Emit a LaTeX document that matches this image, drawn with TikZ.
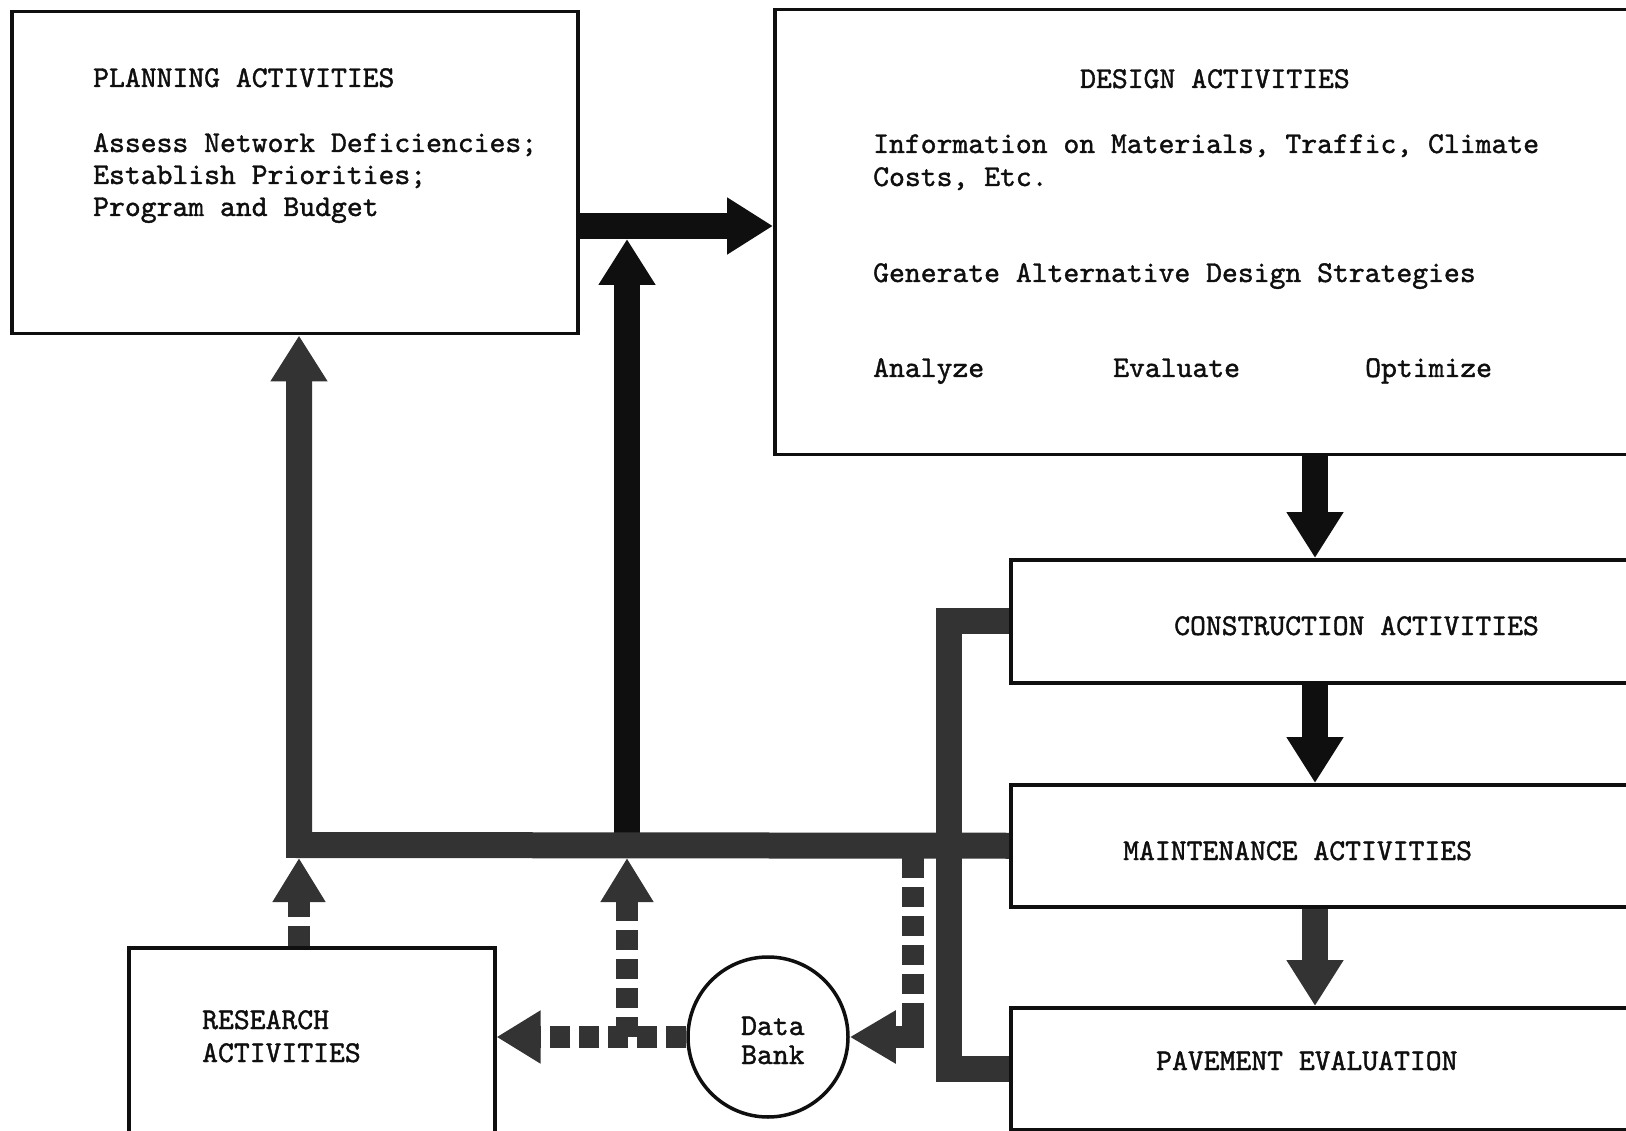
\documentclass[tikz,border=0pt]{standalone}
\usepackage{fontspec}
\setmonofont{lmmono10-regular}[Extension=.otf, FakeBold=1.3]
\usetikzlibrary{arrows.meta}
\definecolor{ink}{gray}{0.06}
\definecolor{grain}{gray}{0.2}

\begin{document}
\begin{tikzpicture}[x=1pt,y=-1pt,
  every node/.style={font=\ttfamily\fontsize{30.2}{32}\selectfont},
  box/.style={draw=ink, line width=3.5pt, rectangle, anchor=north west, inner sep=0pt},
  txt/.style={anchor=base west, inner sep=0pt, text=ink},
  flow/.style={draw=ink, line width=26pt, line join=miter,
    -{Triangle[length=46pt 0 1, width=54pt 0 1]}},
  bar/.style={draw=grain, line width=26pt, line join=miter},
  dline/.style={draw=grain, line width=22pt, dash pattern=on 20pt off 9pt},
  dflow/.style={dline, -{Triangle[length=44pt 0 1, width=50pt 0 1]}},
  dtip/.style={draw=grain, line width=22pt, solid, line join=miter,
    -{Triangle[length=46pt 0 1, width=50pt 0 1]}},
]
\useasboundingbox (0,0) rectangle (1626,1131);
\clip (0,0) rectangle (1626,1131);
\fill[white] (0,0) rectangle (1626,1131);

% activity boxes
\node[box, minimum width=566pt, minimum height=322pt] (planning) at (10,10) {};
\node[box, minimum width=900pt, minimum height=445pt] (design) at (773,8) {};
\node[box, minimum width=700pt, minimum height=123pt] (constr) at (1009,558) {};
\node[box, minimum width=700pt, minimum height=122pt] (maint) at (1009,783) {};
\node[box, minimum width=700pt, minimum height=122pt] (pave) at (1009,1006) {};
\node[box, minimum width=366pt, minimum height=230pt] (research) at (127,946) {};
\node[draw=ink, line width=3.5pt, circle, minimum size=160pt, inner sep=0pt] (databank) at (768,1037) {};

% box texts
\node[txt] (plt) at (93,87) {PLANNING ACTIVITIES};
\node[txt] (pl1) at (93,152) {Assess Network Deficiencies;};
\node[txt] (pl2) at (93,184) {Establish Priorities;};
\node[txt] (pl3) at (93,216) {Program and Budget};

\node[txt] (dst) at (1080,88) {DESIGN ACTIVITIES};
\node[txt] (ds1) at (873,153) {Information on Materials, Traffic, Climate};
\node[txt] (ds2) at (873,186) {Costs, Etc.};
\node[txt] (ds3) at (873,282) {Generate Alternative Design Strategies};
\node[txt] (ds4) at (873,377) {Analyze};
\node[txt] (ds5) at (1113,377) {Evaluate};
\node[txt] (ds6) at (1365,377) {Optimize};

\node[txt] (ct) at (1174,635) {CONSTRUCTION ACTIVITIES};
\node[txt] (mt) at (1123,860) {MAINTENANCE ACTIVITIES};
\node[txt] (pt) at (1156,1070) {PAVEMENT EVALUATION};
\node[txt] (rt1) at (202,1029) {RESEARCH};
\node[txt] (rt2) at (202,1062) {ACTIVITIES};
\node[txt] (db1) at (741,1035) {Data};
\node[txt] (db2) at (741,1064) {Bank};

% reference points for the feedback bus
\coordinate (pd) at (0,226);
\coordinate (pdM) at (627,239);
\coordinate (busL) at (299,845);
\coordinate (busM) at (627,845);
\coordinate (busLb) at (299,858);
\coordinate (busMb) at (627,858);
\coordinate (busRb) at (913,858);
\coordinate (dbk) at (913,1008);
\coordinate (brk) at (949,0);
\coordinate (dc) at (1315,0);

% collector bracket from construction and pavement evaluation
\draw[bar] (constr.west) -- (constr.west -| brk) -- (pave.west -| brk) -- (pave.west);

% feedback paths up to planning and into design
\draw[flow] (busM) -- (pdM);
\draw[flow, draw=grain] (maint.west) -- (busL) -- (planning.south -| busL);

% planning to design
\draw[flow] (planning.east |- pd) -- (design.west |- pd);

% downstream chain
\draw[flow] (design.south -| dc) -- (constr.north -| dc);
\draw[flow] (constr.south -| dc) -- (maint.north -| dc);
\draw[flow, draw=grain] (maint.south -| dc) -- (pave.north -| dc);

% data bank links
\draw[dflow] (research.north -| busLb) -- (busLb);
\draw[dflow] (databank.west) -- (databank.west -| research.east);
\draw[dflow] (databank.west -| busMb) -- (busMb);
\draw[dline] (busRb) -- (dbk);
\draw[dtip] (dbk) -- (dbk |- databank.east) -- (databank.east);
\end{tikzpicture}
\end{document}
